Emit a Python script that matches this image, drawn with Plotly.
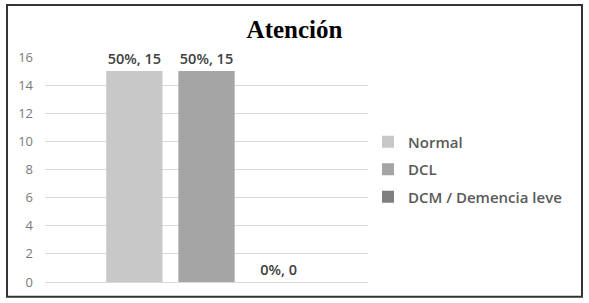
import plotly.graph_objects as go

categories = ["Atención"]
series_names = ["Normal", "DCL", "DCM / Demencia leve"]
series_values = [[15], [15], [0]]
series_colors = ["#c8c8c8", "#a5a5a5", "#7f7f7f"]
y_ticks = [0, 2, 4, 6, 8, 10, 12, 14, 16]

total = sum(v[0] for v in series_values)

fig = go.Figure()
for i, (name, vals, col) in enumerate(zip(series_names, series_values, series_colors)):
    pct = [round(100 * v / total) for v in vals]
    fig.add_trace(go.Bar(
        x=categories, y=vals, name=name,
        marker=dict(color=col, line=dict(width=0)),
        customdata=pct,
        texttemplate="%{customdata}%, %{y}",
        textposition="outside",
        textfont=dict(family="Open Sans", size=14.5, color="#404040", weight=600),
        cliponaxis=False,
        legendgroup=name,
    ))

fig.update_layout(
    width=589, height=303,
    margin=dict(l=45, r=221, t=57, b=21),
    paper_bgcolor="white", plot_bgcolor="white",
    barmode="group", bargap=0.33, bargroupgap=0.22,
    title=dict(text="<b>Atención</b>", x=0.5, xanchor="center", y=0.903, yanchor="middle",
               font=dict(family="Liberation Serif", size=25, color="#000000")),
    showlegend=True,
    legend=dict(x=1.0, xanchor="left", y=0.5, yanchor="middle",
                font=dict(family="Open Sans", size=15, color="#595959", weight=600),
                traceorder="grouped", tracegroupgap=5,
                itemwidth=30, bgcolor="rgba(0,0,0,0)"),
    xaxis=dict(showticklabels=False, showgrid=False, zeroline=False, showline=False, ticks=""),
    yaxis=dict(range=[0, 16], tickvals=y_ticks, showgrid=True, gridcolor="#d9d9d9", gridwidth=1,
               zeroline=True, zerolinecolor="#d9d9d9", zerolinewidth=1, showline=False,
               ticks="", ticklabelstandoff=11,
               tickfont=dict(family="Open Sans", size=13, color="#7a7a7a")),
    shapes=[dict(type="rect", xref="paper", yref="paper",
                 x0=-0.1176, x1=1.6625, y0=-0.0652, y1=1.2308,
                 line=dict(color="#333333", width=2), fillcolor="rgba(0,0,0,0)", layer="above")],
)

fig.write_html("out.html", config={"displayModeBar": False},
               post_script="document.body.style.margin='0';document.body.style.overflow='hidden';")
